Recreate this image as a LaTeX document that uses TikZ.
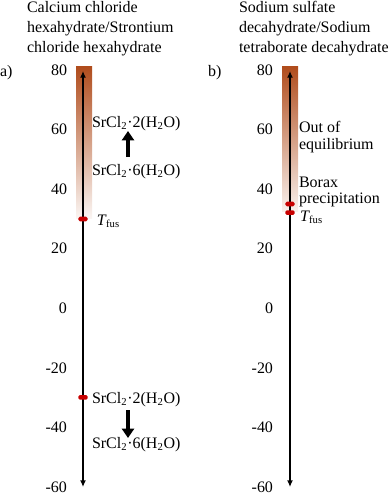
\documentclass[tikz,border=0pt]{standalone}
\usepackage{fontspec}
\setmainfont{Liberation Serif}
\usetikzlibrary{arrows.meta}
\definecolor{brn}{RGB}{176,76,28}
\definecolor{mark}{RGB}{200,0,0}
\begin{document}
\begin{tikzpicture}[x=0.75pt,y=-0.75pt,
  every node/.style={inner sep=0pt,outer sep=0pt,font=\fontsize{12}{15}\selectfont},
  axis/.style={line width=1.1pt,{Latex[length=5pt,width=4.5pt]}-{Latex[length=5pt,width=4.5pt]}},
  bigarrow/.style={line width=2.6pt,-{Triangle[length=7pt,width=9pt]}},
  marker/.style={fill=mark,rounded corners=1pt,minimum width=6.8pt,minimum height=3.4pt,inner sep=0pt},
  tick/.style={anchor=base east},
  lbl/.style={anchor=base west},
  ttl/.style={anchor=base west}]
\useasboundingbox (0,0) rectangle (392,494);
% titles
\node[ttl] (ta1) at (27,12.7) {Calcium chloride};
\node[ttl] (ta2) at (27,32.7) {hexahydrate/Strontium};
\node[ttl] (ta3) at (27,52.7) {chloride hexahydrate};
\node[ttl] (tb1) at (239,12.7) {Sodium sulfate};
\node[ttl] (tb2) at (239,32.7) {decahydrate/Sodium};
\node[ttl] (tb3) at (239,52.7) {tetraborate decahydrate};
\node[anchor=base west] (pa) at (0,76) {a)};
\node[anchor=base west] (pb) at (208,76) {b)};
% gradient bars
\shade[top color=brn,bottom color=brn!5] (76,66) rectangle (92,218.6);
\shade[top color=brn,bottom color=brn!8] (282,66) rectangle (298,211);
% ticks
\foreach \t in {80,60,40,20,0,-20,-40,-60}{
  \node[tick] (la\t) at (67,{308-2.98*\t+5.4}) {\t};
  \node[tick] (lb\t) at (273,{308-2.98*\t+5.4}) {\t};
}
% axes
\coordinate (atop) at (83,71);
\coordinate (abot) at (83,487);
\coordinate (btop) at (290,71);
\coordinate (bbot) at (290,487);
\draw[axis] (abot) -- (atop);
\draw[axis] (bbot) -- (btop);
% markers
\node[marker] (ma1) at (83,219) {};
\node[marker] (ma2) at (83,397.4) {};
\node[marker] (mb1) at (290,204) {};
\node[marker] (mb2) at (290,212.7) {};
% panel a labels
\node[lbl] (s1) at (92,127) {SrCl\textsubscript{2}·2(H\textsubscript{2}O)};
\node[lbl] (s2) at (92,175) {SrCl\textsubscript{2}·6(H\textsubscript{2}O)};
\node[lbl] (tfa) at (97,225) {\textit{T}\kern-0.5pt\textsubscript{fus}};
\node[lbl] (s3) at (92,403) {SrCl\textsubscript{2}·2(H\textsubscript{2}O)};
\node[lbl] (s4) at (92,448) {SrCl\textsubscript{2}·6(H\textsubscript{2}O)};
\coordinate (u1) at (128,157);
\coordinate (u2) at (128,131);
\coordinate (d1) at (128,410);
\coordinate (d2) at (128,438);
\draw[bigarrow] (u1) -- (u2);
\draw[bigarrow] (d1) -- (d2);
% panel b labels
\node[lbl] (o1) at (299,132) {Out of};
\node[lbl] (o2) at (299,149) {equilibrium};
\node[lbl] (b1) at (299,187) {Borax};
\node[lbl] (b2) at (299,203) {precipitation};
\node[lbl] (tfb) at (300,221) {\textit{T}\kern-0.5pt\textsubscript{fus}};
\end{tikzpicture}
\end{document}
